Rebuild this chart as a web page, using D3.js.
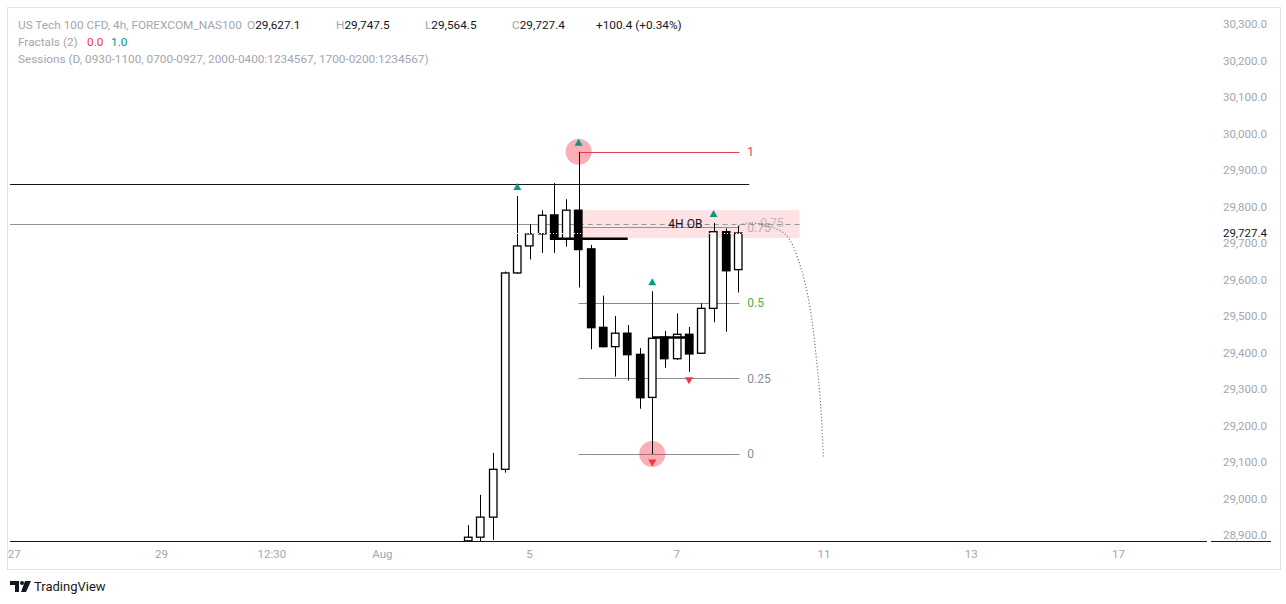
<!DOCTYPE html>
<html>
<head>
<meta charset="utf-8">
<script src="https://cdn.jsdelivr.net/npm/d3@7"></script>
<style>
  body { margin: 0; background: #fff; }
  text { font-family: Roboto, "Noto Sans", sans-serif; }
</style>
</head>
<body>
<script>
// 4h candles, oldest first (index 0 = first visible bar)
var opens  = [28884, 28894, 28949, 29080, 29618, 29692, 29725, 29777, 29712, 29790, 29684, 29469, 29416, 29453, 29395, 29277, 29442, 29383, 29450, 29398, 29521, 29731, 29627.1];
var highs  = [28927, 29010, 29125, 29622, 29829, 29752, 29790, 29864, 29820, 29950, 29695, 29556, 29500, 29475, 29412, 29568, 29459, 29507, 29470, 29535, 29755, 29740, 29747.5];
var lows   = [28875, 28883, 28886, 29071, 29615, 29655, 29673, 29673, 29690, 29578, 29409, 29414, 29334, 29323, 29246, 29122, 29358, 29380, 29347, 29396, 29483, 29457, 29564.5];
var closes = [28894, 28949, 29080, 29618, 29692, 29725, 29776, 29710, 29790, 29682, 29468, 29416, 29453, 29394, 29276, 29439, 29383, 29450, 29396, 29521, 29731, 29624, 29727.4];

var timeTickIdx    = [-37, -25, -16, -7, 5, 17, 29, 41, 53];
var timeTickLabels = ["27", "29", "12:30", "Aug", "5", "7", "11", "13", "17"];
var priceTicks = [30300, 30200, 30100, 30000, 29900, 29800, 29700, 29600, 29500, 29400, 29300, 29200, 29100, 29000, 28900];

var fibLow = 29122, fibHigh = 29950;
var fibLevels = [1, 0.75, 0.5, 0.25, 0];
var fibLabels = ["1", "0.75", "0.5", "0.25", "0"];

var fractalUp = [4, 9, 15, 20];
var fractalDown = [15, 18];

var obTop = 29790, obBottom = 29714;
var resistance = 29862;
var lastPrice = 29727.4;
// projected path (bar index, price)
var projIdx   = [22.1, 23.2, 25.1, 26.5, 27.7, 28.3, 28.7, 28.95];
var projPrice = [29749, 29755, 29739, 29690, 29553, 29407, 29270, 29111];

var W = 1286, H = 604;
var pL = 10, pR = 1208, pT = 10, pB = 541;

var svg = d3.select("body").append("svg")
  .attr("width", W).attr("height", H);

var x = d3.scaleLinear().domain([-37.35, 60.3]).range([pL, pR]);
var y = d3.scaleLinear().domain([28883.6, 30338.4]).range([pB, pT]);
var py = function(p) { return Math.round(y(p)) + 0.5; };  // crisp horizontal lines
var bw = 8.5;

// frame
svg.append("rect").attr("x", 7.5).attr("y", 7.5).attr("width", 1273).attr("height", 562)
  .attr("fill", "#fff").attr("stroke", "#e0e3eb");

svg.append("clipPath").attr("id", "plot")
  .append("rect").attr("x", pL).attr("y", pT).attr("width", pR - pL).attr("height", pB - pT);

var g = svg.append("g").attr("clip-path", "url(#plot)");

// order block zone
g.append("rect")
  .attr("x", x(9)).attr("width", x(27) - x(9))
  .attr("y", y(obTop)).attr("height", y(obBottom) - y(obTop))
  .attr("fill", "#fde1e3");
var obMid = (obTop + obBottom) / 2;
g.append("line").attr("x1", pL).attr("x2", x(9)).attr("y1", py(obMid)).attr("y2", py(obMid))
  .attr("stroke", "#8f929b").attr("stroke-width", 1);
g.append("line").attr("x1", x(9)).attr("x2", x(27)).attr("y1", py(obMid)).attr("y2", py(obMid))
  .attr("stroke", "#9598a1").attr("stroke-dasharray", "5,4");

// horizontal level
g.append("line").attr("x1", pL).attr("x2", x(22.9)).attr("y1", py(resistance)).attr("y2", py(resistance))
  .attr("stroke", "#131722").attr("stroke-width", 1);

// fib retracement
var fibColor = function(l) { return l === 1 ? "#e5404e" : l === 0.5 ? "#4caf50" : l === 0.75 ? "#a08c92" : "#8a8d96"; };
fibLevels.forEach(function(l, i) {
  var p = fibLow + l * (fibHigh - fibLow);
  g.append("line").attr("x1", x(9)).attr("x2", x(22.1)).attr("y1", py(p)).attr("y2", py(p))
    .attr("stroke", fibColor(l)).attr("stroke-width", 1);
  svg.append("text").attr("x", x(22.75)).attr("y", y(p)).attr("dy", "0.35em")
    .attr("font-size", 12)
    .attr("fill", l === 1 ? "#f23645" : l === 0.5 ? "#4caf50" : "#8a8d96")
    .attr("opacity", l === 0.75 ? 0.6 : 1)
    .text(fibLabels[i]);
});
svg.append("text").attr("x", x(23.8)).attr("y", y(obMid) - 1).attr("dy", "0.35em")
  .attr("font-size", 12).attr("fill", "#8a8d96").attr("opacity", 0.5).text("0.75");

// swing circles
g.append("circle").attr("cx", x(9)).attr("cy", y(fibHigh)).attr("r", 13)
  .attr("fill", "#f23645").attr("opacity", 0.4);
g.append("circle").attr("cx", x(15)).attr("cy", y(fibLow)).attr("r", 13)
  .attr("fill", "#f23645").attr("opacity", 0.4);

// candles
var idx = d3.range(opens.length);
g.selectAll(".wick").data(idx).enter().append("line")
  .attr("x1", function(i) { return Math.round(x(i)) + 0.5; })
  .attr("x2", function(i) { return Math.round(x(i)) + 0.5; })
  .attr("y1", function(i) { return y(highs[i]); })
  .attr("y2", function(i) { return y(lows[i]); })
  .attr("stroke", "#000").attr("stroke-width", 1);
g.selectAll(".body").data(idx).enter().append("rect")
  .attr("x", function(i) { return Math.round(x(i) - bw / 2) + 0.5; })
  .attr("width", bw - 1)
  .attr("y", function(i) { return y(Math.max(opens[i], closes[i])); })
  .attr("height", function(i) { return Math.max(1, Math.abs(y(opens[i]) - y(closes[i]))); })
  .attr("fill", function(i) { return closes[i] >= opens[i] ? "#fff" : "#000"; })
  .attr("stroke", "#000").attr("stroke-width", 1.3);

// thick marker lines
g.append("line").attr("x1", x(6.7)).attr("x2", x(13)).attr("y1", y(29712)).attr("y2", y(29712))
  .attr("stroke", "#000").attr("stroke-width", 2.5);
g.append("line").attr("x1", x(15)).attr("x2", x(18.35)).attr("y1", y(29441)).attr("y2", y(29441))
  .attr("stroke", "#000").attr("stroke-width", 2.5);

// last price line
g.append("line").attr("x1", pL).attr("x2", pR).attr("y1", py(lastPrice)).attr("y2", py(lastPrice))
  .attr("stroke", "#fff").attr("stroke-dasharray", "1,2").attr("stroke-width", 1);

// fractals
g.selectAll(".fup").data(fractalUp).enter().append("path")
  .attr("d", function(i) { var cx = x(i), cy = y(highs[i]) - 9.5; return "M" + (cx - 4) + "," + (cy + 3.5) + "L" + (cx + 4) + "," + (cy + 3.5) + "L" + cx + "," + (cy - 3.5) + "Z"; })
  .attr("fill", "#089981");
g.selectAll(".fdn").data(fractalDown).enter().append("path")
  .attr("d", function(i) { var cx = x(i), cy = y(lows[i]) + 9; return "M" + (cx - 4) + "," + (cy - 3.5) + "L" + (cx + 4) + "," + (cy - 3.5) + "L" + cx + "," + (cy + 3.5) + "Z"; })
  .attr("fill", "#f23645");

// OB label
svg.append("text").attr("x", x(17.7)).attr("y", y(obMid)).attr("dy", "0.35em")
  .attr("text-anchor", "middle").attr("font-size", 12).attr("fill", "#131722").text("4H OB");

// projection curve
var proj = d3.line().curve(d3.curveNatural)
  .x(function(d, i) { return x(projIdx[i]); })
  .y(function(d, i) { return y(projPrice[i]); });
g.append("path").attr("d", proj(projIdx)).attr("fill", "none")
  .attr("stroke", "#787b86").attr("stroke-dasharray", "1.2,2").attr("stroke-width", 1.2);

// axes
svg.append("line").attr("x1", pL).attr("x2", pR - 1).attr("y1", pB + 0.5).attr("y2", pB + 0.5)
  .attr("stroke", "#131722");
svg.append("line").attr("x1", pR + 3).attr("x2", 1271).attr("y1", pB + 0.5).attr("y2", pB + 0.5)
  .attr("stroke", "#131722");

svg.selectAll(".ptick").data(priceTicks).enter().append("text")
  .attr("x", 1267).attr("y", function(d) { return y(d); }).attr("dy", "0.35em")
  .attr("text-anchor", "end").attr("font-size", 11.5).attr("fill", "#a3a6af")
  .text(function(d) { return d3.format(",.1f")(d); });

svg.append("rect").attr("x", 1212).attr("y", y(lastPrice) - 7).attr("width", 62).attr("height", 13)
  .attr("fill", "#fff");
svg.append("text").attr("x", 1267).attr("y", y(lastPrice)).attr("dy", "0.35em")
  .attr("text-anchor", "end").attr("font-size", 11.5).attr("fill", "#131722")
  .text(d3.format(",.1f")(lastPrice));

svg.selectAll(".ttick").data(timeTickIdx).enter().append("text")
  .attr("x", function(d) { return x(d); }).attr("y", 554).attr("dy", "0.35em")
  .attr("text-anchor", "middle").attr("font-size", 11.5).attr("fill", "#a3a6af")
  .text(function(d, i) { return timeTickLabels[i]; });

// legend / header
var hdr = svg.append("g").attr("font-size", 11.8);
var l1 = hdr.append("text").attr("x", 18).attr("y", 29);
l1.append("tspan").attr("fill", "#a3a6af").text("US Tech 100 CFD, 4h, FOREXCOM_NAS100");
var ohlc = [["O", opens[22], 247], ["H", highs[22], 336], ["L", lows[22], 425], ["C", closes[22], 512]];
ohlc.forEach(function(o) {
  l1.append("tspan").attr("x", o[2]).attr("fill", "#a3a6af").text(o[0]);
  l1.append("tspan").attr("fill", "#131722").text(d3.format(",.1f")(o[1]));
});
l1.append("tspan").attr("x", 596).attr("fill", "#131722").text("+100.4 (+0.34%)");

var l2 = hdr.append("text").attr("x", 18).attr("y", 46);
l2.append("tspan").attr("fill", "#a3a6af").text("Fractals (2)");
l2.append("tspan").attr("x", 87).attr("fill", "#f23645").text("0.0");
l2.append("tspan").attr("x", 111).attr("fill", "#089981").text("1.0");

hdr.append("text").attr("x", 18).attr("y", 63).attr("fill", "#a3a6af")
  .text("Sessions (D, 0930-1100, 0700-0927, 2000-0400:1234567, 1700-0200:1234567)");

// TradingView logo
var logo = svg.append("g").attr("fill", "#131722");
logo.append("path").attr("d", "M10,581h9v11h-4v-7h-5z");
logo.append("circle").attr("cx", 22).attr("cy", 583).attr("r", 2);
logo.append("path").attr("d", "M25,581h6l-5,11h-5z");
svg.append("text").attr("x", 34).attr("y", 591).attr("font-size", 13).attr("fill", "#131722").text("TradingView");
</script>
</body>
</html>
